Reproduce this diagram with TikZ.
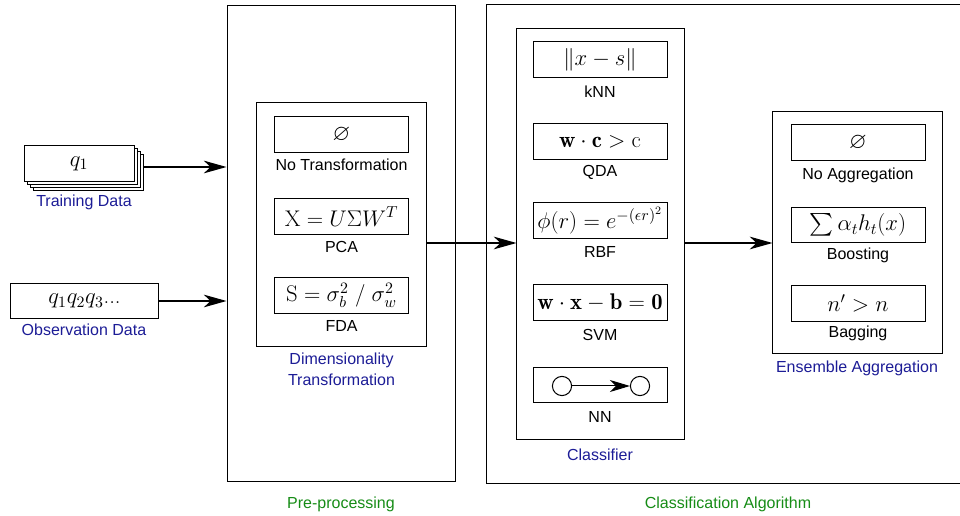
\RequirePackage{fix-cm}
\documentclass[tikz,border=0pt]{standalone}
\usepackage{amsmath}
\usepackage{amssymb}
\usepackage{fontspec}
\newfontfamily\labfont{Liberation Sans}
\usetikzlibrary{arrows.meta}

\definecolor{capblue}{RGB}{28,28,150}
\definecolor{capgreen}{RGB}{22,140,22}

\tikzset{
  frame/.style={draw=black, line width=0.75pt, fill=none, inner sep=0pt},
  formula/.style={draw=black, line width=0.75pt, fill=white, inner sep=0pt,
    minimum width=100.5pt, minimum height=26.3pt,
    font=\fontsize{17}{20}\selectfont},
  methodname/.style={inner sep=0pt, font=\labfont\fontsize{12}{14}\selectfont},
  groupname/.style={inner sep=0pt, align=center, text=capblue,
    font=\labfont\fontsize{12}{15.5}\selectfont},
  stagename/.style={inner sep=0pt, text=capgreen,
    font=\labfont\fontsize{12}{14}\selectfont},
  flow/.style={draw=black, line width=0.9pt,
    -{Stealth[length=17pt,width=9.5pt,inset=5pt]}},
  neuron/.style={circle, draw=black, line width=0.75pt, minimum size=14.4pt, inner sep=0pt}
}

\begin{document}
\begin{tikzpicture}[x=0.75pt,y=-0.75pt]
\useasboundingbox (0,0) rectangle (960,516);

% ---- stage containers ----
\node[frame, minimum width=171pt, minimum height=356.3pt] (pre) at (341,243.5) {};
\node[frame, minimum width=357pt, minimum height=358.5pt] (cls) at (724,244) {};
\node[stagename] (prename) at (341,504) {Pre-processing};
\node[stagename] (clsname) at (728,504) {Classification Algorithm};

% ---- inputs ----
\node[formula, minimum width=82.5pt] (tr3) at (88,172.5) {};
\node[formula, minimum width=82.5pt] (tr2) at (85,169.5) {};
\node[formula, minimum width=82.5pt] (tr1) at (82,166.5) {};
\node[formula, minimum width=82.5pt] (train) at (79,163.5) {$q_1$};
\node[groupname] (trainname) at (84,202) {Training Data};

\node[formula, minimum width=110.3pt] (obs) at (84.5,301) {$q_1q_2q_3$...};
\node[groupname] (obsname) at (84,330) {Observation Data};

% ---- dimensionality transformation ----
\node[frame, minimum width=126.8pt, minimum height=182.3pt] (dim) at (341.5,224.5) {};
\node[formula, minimum width=99.8pt] (dnone) at (341.5,134.5) {$\varnothing$};
\node[methodname] (dnonename) at (341.5,165) {No Transformation};
\node[formula, minimum width=99.8pt] (pca) at (341.5,216.5) {$\mathrm{X} = U\Sigma W^{T}$};
\node[methodname] (pcaname) at (341.5,247) {PCA};
\node[formula, minimum width=99.8pt] (fda) at (341.5,295.5) {$\mathrm{S} = \sigma_b^2 \;/\; \sigma_w^2$};
\node[methodname] (fdaname) at (341.5,326) {FDA};
\node[groupname] (dimname) at (341.5,369) {Dimensionality\\Transformation};

% ---- classifier ----
\node[frame, minimum width=125.3pt, minimum height=307.5pt] (clf) at (600.5,234) {};
\node[formula] (knn) at (600,59.5) {$\lVert x - s\rVert$};
\node[methodname] (knnname) at (600,92) {kNN};
\node[formula] (qda) at (600,141.5) {$\mathbf{w}\cdot\mathbf{c} > \mathrm{c}$};
\node[methodname] (qdaname) at (600,172) {QDA};
\node[formula] (rbf) at (600,220.5) {$\phi(r) = e^{-(\epsilon r)^2}$};
\node[methodname] (rbfname) at (600,252) {RBF};
\node[formula] (svm) at (600,302.5) {$\mathbf{w\cdot x - b = 0}$};
\node[methodname] (svmname) at (600,335) {SVM};
\node[formula] (nn) at (600,385) {};
\node[neuron] (nin) at (562,386) {};
\node[neuron] (nout) at (640,386) {};
\draw[draw=black, line width=0.75pt, -{Stealth[length=15pt,width=9pt,inset=4.5pt]}] (nin) -- (nout);
\node[methodname] (nnname) at (600,417) {NN};
\node[groupname] (clfname) at (600,455) {Classifier};

% ---- ensemble aggregation ----
\node[frame, minimum width=126.8pt, minimum height=181.5pt] (ens) at (857.5,233) {};
\node[formula] (enone) at (858,142.5) {$\varnothing$};
\node[methodname] (enonename) at (858,175) {No Aggregation};
\node[formula] (boost) at (858,225) {$\sum \alpha_t h_t(x)$};
\node[methodname] (boostname) at (858,255) {Boosting};
\node[formula] (bag) at (858,303.5) {$n' > n$};
\node[methodname] (bagname) at (858,333) {Bagging};
\node[groupname] (ensname) at (857,368) {Ensemble Aggregation};

% ---- data flow ----
\coordinate (trainlevel) at (0,167);
\coordinate (mainlevel) at (0,243);
\draw[flow] (tr3.east |- trainlevel) -- (pre.west |- trainlevel);
\draw[flow] (obs.east) -- (pre.west |- obs.east);
\draw[flow] (dim.east |- mainlevel) -- (clf.west |- mainlevel);
\draw[flow] (clf.east |- mainlevel) -- (ens.west |- mainlevel);
\end{tikzpicture}
\end{document}
